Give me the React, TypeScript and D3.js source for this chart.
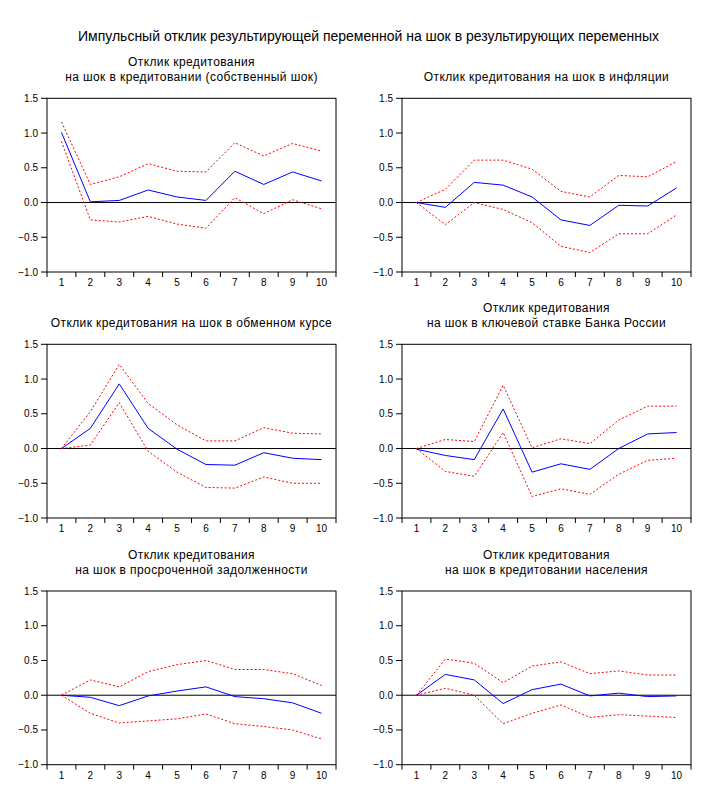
import React from "react";
import * as d3 from "d3";

const periods = [1, 2, 3, 4, 5, 6, 7, 8, 9, 10];
const yTicks = [-1.0, -0.5, 0.0, 0.5, 1.0, 1.5];

const mainTitle = "Импульсный отклик результирующей переменной на шок в результирующих переменных";

const titles: string[][] = [
  ["Отклик кредитования", "на шок в кредитовании (собственный шок)"],
  ["Отклик кредитования на шок в инфляции"],
  ["Отклик кредитования на шок в обменном курсе"],
  ["Отклик кредитования", "на шок в ключевой ставке Банка России"],
  ["Отклик кредитования", "на шок в просроченной задолженности"],
  ["Отклик кредитования", "на шок в кредитовании населения"],
];

// response (blue)
const resp1 = [1.01, 0.01, 0.03, 0.18, 0.08, 0.03, 0.45, 0.26, 0.44, 0.31];
const resp2 = [0.0, -0.07, 0.29, 0.25, 0.08, -0.25, -0.33, -0.04, -0.05, 0.21];
const resp3 = [0.0, 0.29, 0.93, 0.29, -0.01, -0.23, -0.24, -0.06, -0.14, -0.16];
const resp4 = [-0.01, -0.1, -0.16, 0.57, -0.34, -0.22, -0.3, 0.0, 0.21, 0.23];
const resp5 = [0.0, -0.03, -0.15, -0.01, 0.06, 0.12, -0.02, -0.05, -0.11, -0.26];
const resp6 = [0.0, 0.3, 0.22, -0.12, 0.08, 0.16, -0.01, 0.03, -0.02, -0.01];

// upper band (red dotted)
const upper1 = [1.16, 0.26, 0.37, 0.56, 0.45, 0.44, 0.86, 0.67, 0.85, 0.74];
const upper2 = [0.0, 0.19, 0.61, 0.61, 0.48, 0.16, 0.08, 0.39, 0.37, 0.59];
const upper3 = [0.0, 0.53, 1.21, 0.65, 0.34, 0.11, 0.11, 0.3, 0.22, 0.21];
const upper4 = [0.0, 0.13, 0.1, 0.91, 0.01, 0.14, 0.07, 0.41, 0.61, 0.61];
const upper5 = [0.0, 0.22, 0.12, 0.34, 0.44, 0.5, 0.37, 0.37, 0.31, 0.14];
const upper6 = [0.0, 0.52, 0.46, 0.18, 0.42, 0.48, 0.31, 0.35, 0.29, 0.29];

// lower band (red dotted)
const lower1 = [0.88, -0.25, -0.28, -0.2, -0.31, -0.37, 0.07, -0.16, 0.04, -0.09];
const lower2 = [0.0, -0.32, 0.0, -0.1, -0.29, -0.63, -0.72, -0.45, -0.45, -0.18];
const lower3 = [0.0, 0.05, 0.66, -0.04, -0.34, -0.56, -0.57, -0.41, -0.5, -0.5];
const lower4 = [0.0, -0.33, -0.4, 0.23, -0.69, -0.58, -0.66, -0.37, -0.17, -0.14];
const lower5 = [0.0, -0.26, -0.4, -0.37, -0.34, -0.27, -0.41, -0.45, -0.5, -0.63];
const lower6 = [0.0, 0.1, 0.0, -0.41, -0.26, -0.14, -0.32, -0.28, -0.3, -0.32];

const responses = [resp1, resp2, resp3, resp4, resp5, resp6];
const uppers = [upper1, upper2, upper3, upper4, upper5, upper6];
const lowers = [lower1, lower2, lower3, lower4, lower5, lower6];

const FONT = "'Liberation Sans', Arial, sans-serif";

const colX = [[47, 336], [402, 691]];
const rowY = [98.3, 344.3, 591];
const plotH = 173.7;

function Panel({ idx }: { idx: number }) {
  const col = idx % 2;
  const row = Math.floor(idx / 2);
  const [x0, x1] = colX[col];
  const top = rowY[row];
  const bottom = top + plotH;
  const x = d3.scaleBand<number>().domain(periods).range([x0, x1]).padding(0);
  const y = d3.scaleLinear().domain([-1, 1.5]).range([bottom, top]);
  const cx = (p: number) => (x(p) as number) + x.bandwidth() / 2;
  const line = d3
    .line<number>()
    .x((_, i) => cx(periods[i]))
    .y((v) => y(v));
  const fmt = d3.format(".1f");
  const boundaries = [...periods.map((p) => x(p) as number), x1];
  const t = titles[idx];
  const midX = (x0 + x1) / 2;
  return (
    <g>
      {t.map((s, i) => (
        <text
          key={i}
          x={midX}
          y={top - 17 - (t.length - 1 - i) * 15}
          textAnchor="middle"
          fontFamily={FONT}
          fontSize={12}
          letterSpacing={0.4}
          fill="#000"
        >
          {s}
        </text>
      ))}
      <rect x={x0} y={top} width={x1 - x0} height={bottom - top} fill="none" stroke="#000" strokeWidth={1} />
      {yTicks.map((v) => (
        <g key={v}>
          <line x1={x0 - 6} x2={x0} y1={y(v)} y2={y(v)} stroke="#000" />
          <text
            x={x0 - 9}
            y={y(v) + 3.5}
            textAnchor="end"
            fontFamily={FONT}
            fontSize={10}
            fill="#000"
          >
            {fmt(v)}
          </text>
        </g>
      ))}
      {boundaries.map((b, i) => (
        <line key={i} x1={b} x2={b} y1={bottom} y2={bottom + 5} stroke="#000" />
      ))}
      {periods.map((p) => (
        <text
          key={p}
          x={cx(p)}
          y={bottom + 14}
          textAnchor="middle"
          fontFamily={FONT}
          fontSize={10}
          fill="#000"
        >
          {p}
        </text>
      ))}
      <line x1={x0} x2={x1} y1={y(0)} y2={y(0)} stroke="#000" strokeWidth={1} />
      <path d={line(uppers[idx]) || ""} fill="none" stroke="#FF0000" strokeWidth={1} strokeDasharray="2,2" />
      <path d={line(lowers[idx]) || ""} fill="none" stroke="#FF0000" strokeWidth={1} strokeDasharray="2,2" />
      <path d={line(responses[idx]) || ""} fill="none" stroke="#0000FF" strokeWidth={1} />
    </g>
  );
}

export default function App() {
  return (
    <svg
      width={720}
      height={806}
      style={{ position: "absolute", left: 0, top: 0, background: "#fff" }}
    >
      <rect x={0} y={0} width={720} height={806} fill="#fff" />
      <text x={368.5} y={41} textAnchor="middle" fontFamily={FONT} fontSize={14} fill="#000">
        {mainTitle}
      </text>
      {[0, 1, 2, 3, 4, 5].map((i) => (
        <Panel key={i} idx={i} />
      ))}
    </svg>
  );
}
